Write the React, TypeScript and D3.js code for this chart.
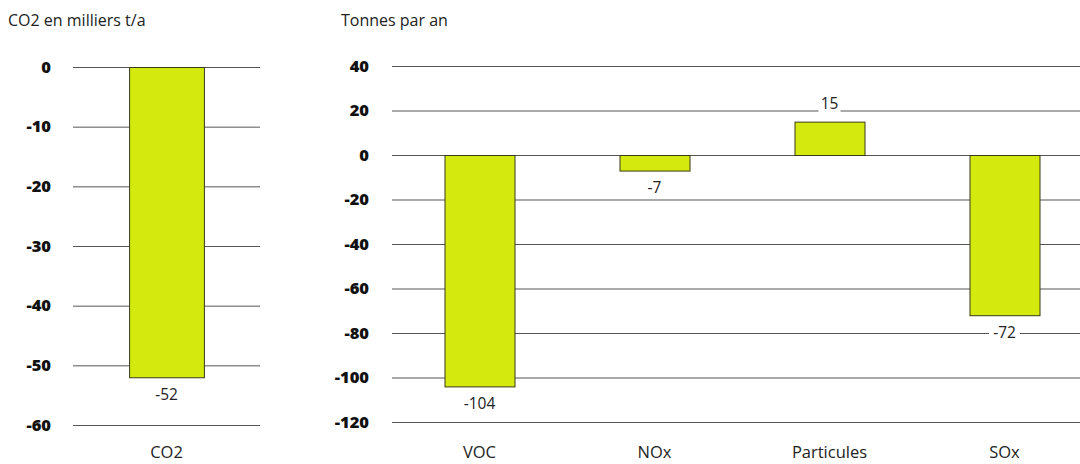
import React from 'react'
import * as d3 from 'd3'

const co2Categories = ['CO2']
const co2Values = [-52]
const co2Ticks = [0, -10, -20, -30, -40, -50, -60]

const pollutantCategories = ['VOC', 'NOx', 'Particules', 'SOx']
const pollutantValues = [-104, -7, 15, -72]
const pollutantTicks = [40, 20, 0, -20, -40, -60, -80, -100, -120]

const W = 1080
const H = 464
const font = '"Open Sans", "DejaVu Sans", sans-serif'
const barFill = '#d4ea0f'
const barStroke = '#3a3a1a'
const gridColor = '#555'

interface PanelProps {
  title: string
  titleX: number
  categories: string[]
  values: number[]
  ticks: number[]
  x0: number
  x1: number
  xEnd: number // the band range runs past the cut-off right edge
  y0: number
  y1: number
  tickX: number
}

const Panel = ({ title, titleX, categories, values, ticks, x0, x1, xEnd, y0, y1, tickX }: PanelProps) => {
  const y = d3.scaleLinear().domain([d3.max(ticks)!, d3.min(ticks)!]).range([y0, y1])
  const x = d3.scaleBand<string>().domain(categories).range([x0, xEnd]).paddingInner(0.6).paddingOuter(0.3)

  return (
    <g>
      <text x={titleX} y={26} fontSize={16} fill="#222" fontFamily={font}>
        {title}
      </text>
      {ticks.map((t) => (
        <g key={t}>
          <line x1={x0} x2={x1} y1={y(t) + 0.5} y2={y(t) + 0.5} stroke={gridColor} strokeWidth={1} />
          <text
            x={tickX}
            y={y(t)}
            dy="0.35em"
            textAnchor="end"
            fontSize={16.5}
            fontWeight={800}
            fill="#111"
            fontFamily={font}
          >
            {t}
          </text>
        </g>
      ))}
      {categories.map((c, i) => {
        const v = values[i]
        const top = y(Math.max(0, v))
        const bottom = y(Math.min(0, v))
        const cx = x(c)! + x.bandwidth() / 2
        const ly = v < 0 ? bottom + 17 : top - 18
        const label = String(v)
        const lw = label.length * 9 + 4
        return (
          <g key={c}>
            <rect
              x={x(c)! + 0.5}
              y={top + 0.5}
              width={x.bandwidth()}
              height={bottom - top}
              fill={barFill}
              stroke={barStroke}
              strokeWidth={1}
            />
            <rect x={cx - lw / 2} y={ly - 9} width={lw} height={18} fill="#fff" />
            <text x={cx} y={ly} dy="0.35em" textAnchor="middle" fontSize={15.5} fill="#222" fontFamily={font}>
              {label}
            </text>
            <text x={cx} y={458} textAnchor="middle" fontSize={16.5} fill="#222" fontFamily={font}>
              {c}
            </text>
          </g>
        )
      })}
    </g>
  )
}

const App = () => {
  return (
    <svg
      width={W}
      height={H}
      viewBox={`0 0 ${W} ${H}`}
      style={{ position: 'absolute', left: 0, top: 0, background: '#fff' }}
    >
      <Panel
        title="CO2 en milliers t/a"
        titleX={8}
        categories={co2Categories}
        values={co2Values}
        ticks={co2Ticks}
        x0={73}
        x1={260}
        xEnd={260}
        y0={67}
        y1={425}
        tickX={51}
      />
      <Panel
        title="Tonnes par an"
        titleX={341}
        categories={pollutantCategories}
        values={pollutantValues}
        ticks={pollutantTicks}
        x0={392}
        x1={1080}
        xEnd={1092}
        y0={66}
        y1={422}
        tickX={369}
      />
    </svg>
  )
}

export default App
